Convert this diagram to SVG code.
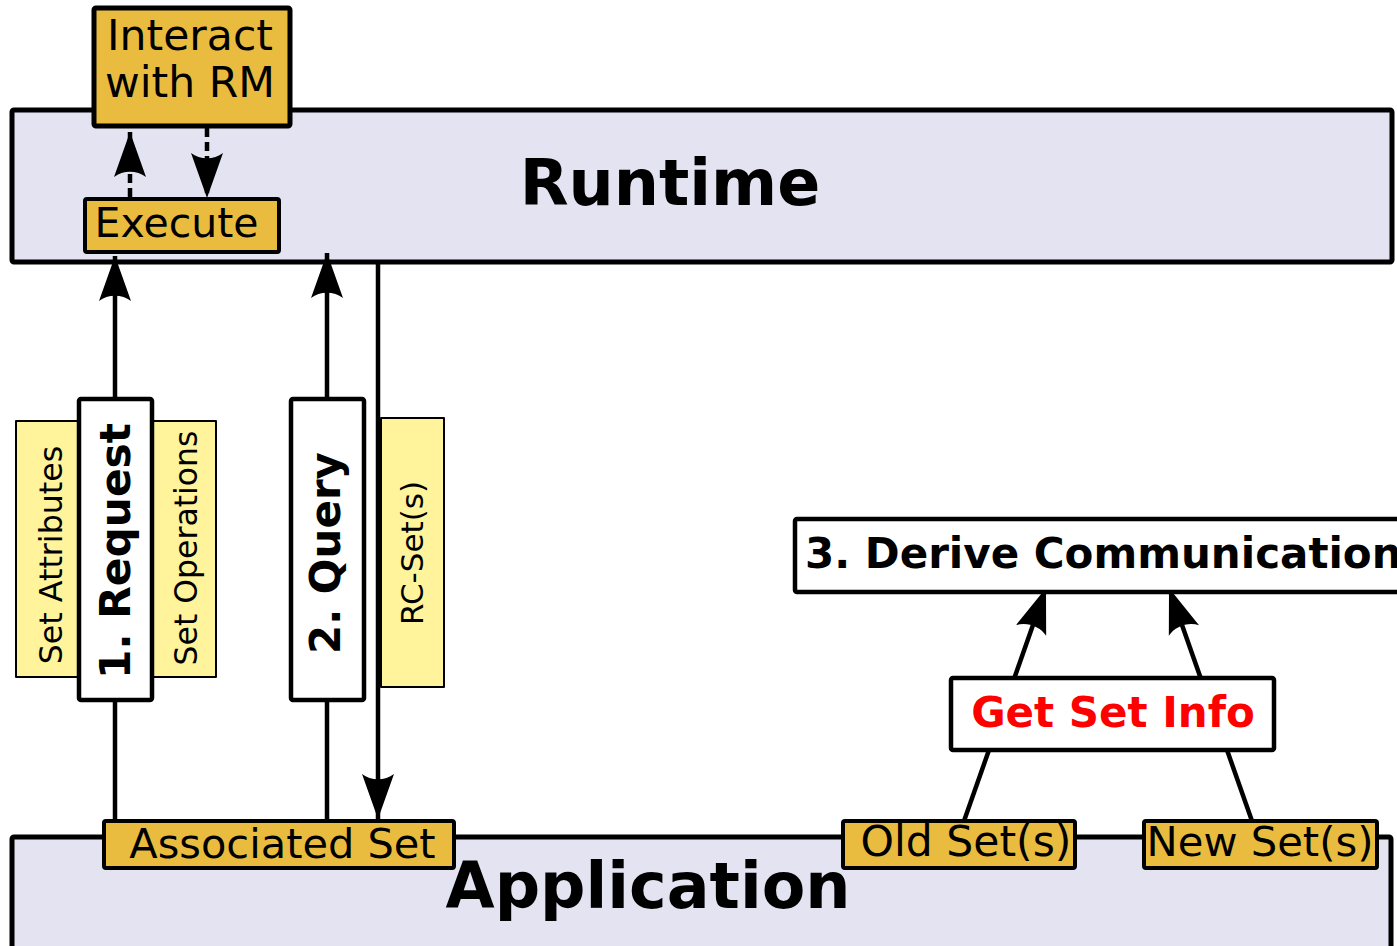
<svg xmlns="http://www.w3.org/2000/svg" width="1397" height="946" viewBox="0 0 1397 946">
<defs>
<style>
.big{fill:#e3e3f2;stroke:#000;stroke-width:5;stroke-linejoin:round}
.gold{fill:#e9bc3f;stroke:#000;stroke-width:5;stroke-linejoin:round}
.gold4{fill:#e9bc3f;stroke:#000;stroke-width:4;stroke-linejoin:round}
.white{fill:#fff;stroke:#000;stroke-width:4.5;stroke-linejoin:round}
.pale{fill:#fff49b;stroke:#000;stroke-width:2;stroke-linejoin:round}
.t{font-family:"DejaVu Sans","Liberation Sans",sans-serif;fill:#000}
.b{font-weight:bold}
.ln{stroke:#000;stroke-width:4.5;fill:none}
.dash{stroke:#000;stroke-width:4.5;fill:none;stroke-dasharray:9,5}
</style>
<marker id="ah" markerUnits="userSpaceOnUse" orient="auto" refX="0" refY="0" markerWidth="60" markerHeight="40" viewBox="-50 -20 60 40" overflow="visible">
<path d="M0,0 L-45,-16 C-38,-7 -38,7 -45,16 Z" fill="#000"/>
</marker>
</defs>

<g id="runtime">
<rect class="big" x="12" y="110" width="1380" height="152" rx="2"/>
<text class="t b" x="670" y="205" font-size="63.5" text-anchor="middle">Runtime</text>
</g>

<g id="application">
<rect class="big" x="12" y="837" width="1379" height="130" rx="2"/>
<text class="t b" x="648" y="908" font-size="63.5" text-anchor="middle">Application</text>
</g>

<g id="interact">
<rect class="gold" x="94" y="8" width="196" height="118" rx="2"/>
<text class="t" x="190" y="50" font-size="42.5" text-anchor="middle">Interact</text>
<text class="t" x="190" y="97" font-size="42.5" text-anchor="middle">with RM</text>
</g>

<g id="execute">
<rect class="gold4" x="85" y="199" width="194" height="53" rx="2"/>
<text class="t" x="176.5" y="237" font-size="41" text-anchor="middle">Execute</text>
</g>

<g id="connectors">
<line class="dash" x1="130" y1="197" x2="130" y2="132" marker-end="url(#ah)"/>
<line class="dash" x1="207" y1="128" x2="207" y2="198" marker-end="url(#ah)"/>
<line class="ln" x1="115" y1="398" x2="115" y2="256" marker-end="url(#ah)"/>
<line class="ln" x1="115" y1="700" x2="115" y2="821"/>
<line class="ln" x1="327" y1="398" x2="327" y2="253" marker-end="url(#ah)"/>
<line class="ln" x1="327" y1="700" x2="327" y2="821"/>
<line class="ln" x1="378" y1="264" x2="378" y2="819" marker-end="url(#ah)"/>
<line class="ln" x1="964" y1="821" x2="989" y2="750"/>
<line class="ln" x1="1252" y1="821" x2="1227" y2="750"/>
<line class="ln" x1="1014" y1="679" x2="1046" y2="588" marker-end="url(#ah)"/>
<line class="ln" x1="1201" y1="679" x2="1169" y2="588" marker-end="url(#ah)"/>
</g>

<g id="set-attributes">
<rect class="pale" x="16" y="421" width="63" height="256"/>
<text class="t" transform="translate(62,555) rotate(-90)" font-size="31.7" text-anchor="middle">Set Attributes</text>
</g>

<g id="set-operations">
<rect class="pale" x="152" y="421" width="64" height="256"/>
<text class="t" transform="translate(197,548) rotate(-90)" font-size="31.5" text-anchor="middle">Set Operations</text>
</g>

<g id="request">
<rect class="white" x="79" y="399" width="73" height="301" rx="2"/>
<text class="t b" transform="translate(130,551) rotate(-90)" font-size="42.3" text-anchor="middle">1. Request</text>
</g>

<g id="query">
<rect class="white" x="291" y="399" width="73" height="301" rx="2"/>
<text class="t b" transform="translate(340,553) rotate(-90)" font-size="42" text-anchor="middle">2. Query</text>
</g>

<g id="rc-sets">
<rect class="pale" x="381" y="418" width="63" height="269"/>
<text class="t" transform="translate(423,553) rotate(-90)" font-size="31" text-anchor="middle">RC-Set(s)</text>
</g>

<g id="associated-set">
<rect class="gold4" x="104" y="821" width="350" height="47" rx="2"/>
<text class="t" x="282.5" y="858" font-size="41.5" text-anchor="middle">Associated Set</text>
</g>

<g id="old-sets">
<rect class="gold4" x="843" y="821" width="232" height="47" rx="2"/>
<text class="t" x="966" y="856" font-size="42.5" text-anchor="middle">Old Set(s)</text>
</g>

<g id="new-sets">
<rect class="gold4" x="1144" y="821" width="233" height="47" rx="2"/>
<text class="t" x="1260" y="856" font-size="41.7" text-anchor="middle">New Set(s)</text>
</g>

<g id="derive">
<rect class="white" x="795" y="519" width="640" height="73" rx="2"/>
<text class="t b" x="805" y="568" font-size="42">3. Derive Communication</text>
</g>

<g id="get-set-info">
<rect class="white" x="951" y="678" width="323" height="72" rx="2"/>
<text class="t b" x="1113" y="727" font-size="42" text-anchor="middle" fill="#ff0000" style="fill:#ff0000">Get Set Info</text>
</g>
</svg>
